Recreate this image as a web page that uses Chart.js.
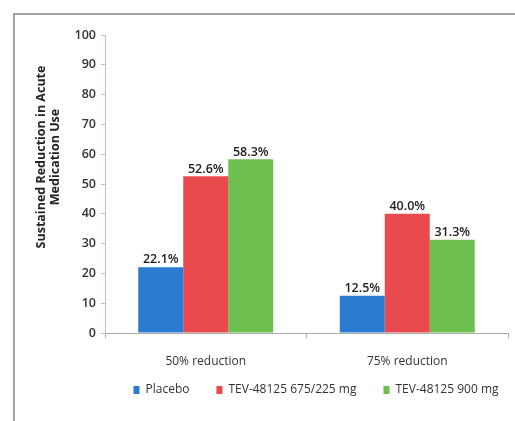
<!DOCTYPE html>
<html>
<head>
<meta charset="utf-8">
<script src="https://cdn.jsdelivr.net/npm/chart.js@4.4.1/dist/chart.umd.min.js"></script>
<style>
  html, body { margin: 0; padding: 0; background: #fff; overflow: hidden; }
  canvas { display: block; }
</style>
</head>
<body>
<canvas id="c" width="515" height="421"></canvas>
<script>
// Categories, series and tick values
const categories = ['50% reduction', '75% reduction'];
const seriesNames = ['Placebo', 'TEV-48125 675/225 mg', 'TEV-48125 900 mg'];
const placebo = [22.1, 12.5];
const tev675 = [52.6, 40.0];
const tev900 = [58.3, 31.3];
const yTicks = [0, 10, 20, 30, 40, 50, 60, 70, 80, 90, 100];
const yTitleLines = ['Sustained Reduction in Acute', 'Medication Use'];

const colors = ['#2b7bd1', '#e84a4d', '#6dbf4f'];
const FONT = '"Open Sans", "Liberation Sans", sans-serif';

// Grey panel edge along the top and left of the figure
const panelEdge = {
  id: 'panelEdge',
  beforeDraw(chart, args, opts) {
    const ctx = chart.ctx;
    ctx.save();
    ctx.strokeStyle = '#a3a3a3';
    ctx.lineWidth = 2;
    ctx.beginPath();
    ctx.moveTo(opts.inset, chart.height);
    ctx.lineTo(opts.inset, opts.inset);
    ctx.lineTo(chart.width, opts.inset);
    ctx.stroke();
    ctx.restore();
  }
};

// Percent labels above each bar
const valueLabels = {
  id: 'valueLabels',
  afterDatasetsDraw(chart) {
    const ctx = chart.ctx;
    ctx.save();
    ctx.font = '600 12.5px ' + FONT;
    ctx.fillStyle = '#222';
    ctx.textAlign = 'center';
    ctx.textBaseline = 'bottom';
    chart.data.datasets.forEach((ds, i) => {
      chart.getDatasetMeta(i).data.forEach((bar, j) => {
        ctx.fillText(ds.data[j].toFixed(1) + '%', bar.x, bar.y - 1);
      });
    });
    ctx.restore();
  }
};

// Two-line rotated value-axis title
const yTitle = {
  id: 'yTitle',
  afterDraw(chart, args, opts) {
    const ctx = chart.ctx;
    ctx.save();
    ctx.font = 'bold 12.5px ' + FONT;
    ctx.fillStyle = '#222';
    ctx.textAlign = 'center';
    ctx.textBaseline = 'middle';
    yTitleLines.forEach((line, i) => {
      ctx.save();
      ctx.translate(opts.x + i * opts.lineGap, opts.y);
      ctx.rotate(-Math.PI / 2);
      ctx.fillText(line, 0, 0);
      ctx.restore();
    });
    ctx.restore();
  }
};

// Place the legend row just under the category labels, right of the canvas centre
const legendPlace = {
  id: 'legendPlace',
  afterLayout(chart, args, opts) {
    const lg = chart.legend;
    if (!lg) return;
    const dy = opts.top - lg.top;
    lg.top += dy; lg.bottom += dy;
    lg.left += opts.dx; lg.right += opts.dx;
  }
};

const seriesData = [placebo, tev675, tev900];

new Chart(document.getElementById('c'), {
  type: 'bar',
  data: {
    labels: categories,
    datasets: seriesNames.map((name, i) => ({
      label: name,
      data: seriesData[i],
      backgroundColor: colors[i],
      borderWidth: 0,
      barPercentage: 1.0,
      categoryPercentage: 0.67
    }))
  },
  plugins: [panelEdge, valueLabels, yTitle, legendPlace],
  options: {
    responsive: false,
    animation: false,
    layout: { padding: { left: 0, right: 7, top: 35, bottom: 1 } },
    plugins: {
      tooltip: { enabled: false },
      panelEdge: { inset: 14 },
      yTitle: { x: 41, y: 157, lineGap: 14 },
      legendPlace: { dx: 62, top: 357 },
      legend: {
        position: 'bottom',
        fullSize: true,
        labels: {
          boxWidth: 6,
          boxHeight: 8,
          padding: 27,
          color: '#333',
          font: { family: FONT, size: 12 }
        }
      }
    },
    scales: {
      x: {
        afterFit(scale) { scale.height = 38; },
        grid: { display: true, offset: true, drawOnChartArea: false, drawTicks: true, tickLength: 5, color: '#aaa' },
        border: { display: true, color: '#aaa' },
        ticks: { color: '#333', padding: 16, font: { family: FONT, size: 12 } }
      },
      y: {
        min: 0,
        max: 100,
        afterFit(scale) { scale.width = 105; },
        afterBuildTicks(scale) { scale.ticks = yTicks.map(v => ({ value: v })); },
        grid: { display: true, drawOnChartArea: false, drawTicks: true, tickLength: 4, color: '#cdbcbc' },
        border: { display: true, color: '#cdbcbc' },
        ticks: { color: '#333', padding: 5, font: { family: FONT, size: 12.5, weight: '600' } }
      }
    }
  }
});
</script>
</body>
</html>
